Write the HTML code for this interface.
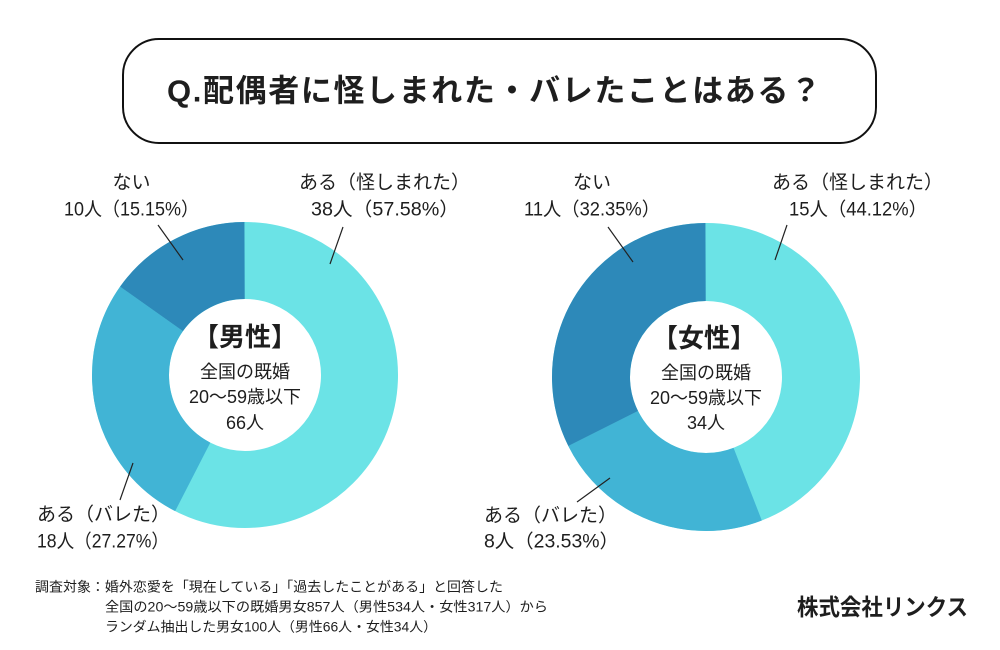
<!DOCTYPE html>
<html><head><meta charset="utf-8">
<style>
html,body{margin:0;padding:0;background:#fff;}
body{width:1000px;height:650px;overflow:hidden;}
svg{display:block;}
text{font-family:"Liberation Sans","Noto Sans CJK JP",sans-serif;fill:#1e1e1e;}
</style></head>
<body>
<svg width="1000" height="650" viewBox="0 0 1000 650" xmlns="http://www.w3.org/2000/svg">
<rect x="0" y="0" width="1000" height="650" fill="#fff"/>
<!-- Title box -->
<rect x="123" y="39" width="753" height="104" rx="36" ry="36" fill="#fff" stroke="#111" stroke-width="2"/>
<text x="167" y="91" dominant-baseline="central" font-size="31" font-weight="bold" fill="#111" textLength="654" lengthAdjust="spacing">Q.配偶者に怪しまれた・バレたことはある？</text>

<!-- Left donut -->
<g transform="rotate(-90 245 375)">
<circle cx="245" cy="375" r="114.5" fill="none" stroke="#6be3e6" stroke-width="77"/>
<circle cx="245" cy="375" r="114.5" fill="none" stroke="#41b4d5" stroke-width="77" pathLength="100" stroke-dasharray="27.27 200" stroke-dashoffset="-57.58"/>
<circle cx="245" cy="375" r="114.5" fill="none" stroke="#2d89b9" stroke-width="77" pathLength="100" stroke-dasharray="15.15 200" stroke-dashoffset="-84.85"/>
</g>
<!-- Right donut -->
<g transform="rotate(-90 706 377)">
<circle cx="706" cy="377" r="115" fill="none" stroke="#6be3e6" stroke-width="78"/>
<circle cx="706" cy="377" r="115" fill="none" stroke="#41b4d5" stroke-width="78" pathLength="100" stroke-dasharray="23.53 200" stroke-dashoffset="-44.12"/>
<circle cx="706" cy="377" r="115" fill="none" stroke="#2d89b9" stroke-width="78" pathLength="100" stroke-dasharray="32.35 200" stroke-dashoffset="-67.65"/>
</g>

<!-- Leader lines -->
<g stroke="#222" stroke-width="1.2">
<line x1="158" y1="225" x2="183" y2="260"/>
<line x1="343" y1="227" x2="330" y2="264"/>
<line x1="133" y1="463" x2="120" y2="500"/>
<line x1="608" y1="227" x2="633" y2="262"/>
<line x1="787" y1="225" x2="775" y2="260"/>
<line x1="610" y1="478" x2="577" y2="502"/>
</g>

<!-- Left labels -->
<g font-size="19" dominant-baseline="central">
<text x="131.5" y="183" text-anchor="middle">ない</text>
<text x="64" y="210" textLength="135" lengthAdjust="spacingAndGlyphs">10人（15.15%）</text>
<text x="299" y="183">ある（怪しまれた）</text>
<text x="311" y="210" textLength="148" lengthAdjust="spacingAndGlyphs">38人（57.58%）</text>
<text x="37" y="515">ある（バレた）</text>
<text x="37" y="542" textLength="132" lengthAdjust="spacingAndGlyphs">18人（27.27%）</text>

<text x="592" y="183" text-anchor="middle">ない</text>
<text x="524" y="210" textLength="136" lengthAdjust="spacingAndGlyphs">11人（32.35%）</text>
<text x="772" y="183">ある（怪しまれた）</text>
<text x="789" y="210" textLength="138" lengthAdjust="spacingAndGlyphs">15人（44.12%）</text>
<text x="484" y="516">ある（バレた）</text>
<text x="484" y="542" textLength="135" lengthAdjust="spacingAndGlyphs">8人（23.53%）</text>
</g>

<!-- Center texts -->
<g text-anchor="middle" dominant-baseline="central">
<text x="245" y="337" font-size="26" font-weight="bold" fill="#111">【男性】</text>
<text x="245" y="372" font-size="18">全国の既婚</text>
<text x="245" y="397" font-size="18">20〜59歳以下</text>
<text x="245" y="423" font-size="18">66人</text>

<text x="704" y="338" font-size="26" font-weight="bold" fill="#111">【女性】</text>
<text x="706" y="373" font-size="18">全国の既婚</text>
<text x="706" y="398" font-size="18">20〜59歳以下</text>
<text x="706" y="423" font-size="18">34人</text>
</g>

<!-- Footnote -->
<g font-size="13.5" dominant-baseline="central" fill="#222">
<text x="35" y="587" textLength="468" lengthAdjust="spacingAndGlyphs">調査対象：婚外恋愛を「現在している」「過去したことがある」と回答した</text>
<text x="105" y="607" textLength="443" lengthAdjust="spacingAndGlyphs">全国の20〜59歳以下の既婚男女857人（男性534人・女性317人）から</text>
<text x="105" y="627" textLength="332" lengthAdjust="spacingAndGlyphs">ランダム抽出した男女100人（男性66人・女性34人）</text>
</g>

<text x="797" y="607" dominant-baseline="central" font-size="23" font-weight="bold" fill="#333" textLength="171" lengthAdjust="spacingAndGlyphs">株式会社リンクス</text>
</svg>
</body></html>
